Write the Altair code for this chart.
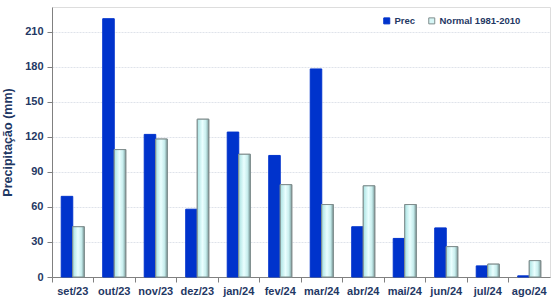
import altair as alt
import pandas as pd

months = ["set/23", "out/23", "nov/23", "dez/23", "jan/24", "fev/24",
          "mar/24", "abr/24", "mai/24", "jun/24", "jul/24", "ago/24"]
prec = [69, 221, 122, 58, 124, 104, 178, 43, 33, 42, 9.5, 1]
normal = [43, 109, 118, 135, 105, 79, 62, 78, 62, 26, 11, 14]
series = ["Prec", "Normal 1981-2010"]

rows = []
for m, p, n in zip(months, prec, normal):
    rows.append({"mes": m, "serie": series[0], "valor": p})
    rows.append({"mes": m, "serie": series[1], "valor": n})
df = pd.DataFrame(rows)

navy = "#1f3864"
font = "Liberation Sans"

x = alt.X("mes:N", sort=months, title=None,
          scale=alt.Scale(paddingInner=0, paddingOuter=0),
          axis=alt.Axis(labelAngle=0, bandPosition=0, ticks=True, tickSize=5,
                        tickColor="#808080", domainColor="#808080",
                        labelFont=font, labelFontSize=11, labelFontWeight="bold",
                        labelColor=navy, labelPadding=3, grid=False))
y = alt.Y("valor:Q", title="Precipitação (mm)",
          scale=alt.Scale(domain=[0, 231], nice=False),
          axis=alt.Axis(values=[0, 30, 60, 90, 120, 150, 180, 210], tickSize=5,
                        tickColor="#808080", domainColor="#808080",
                        labelFont=font, labelFontSize=11, labelFontWeight="bold",
                        labelColor=navy, labelPadding=4,
                        titleFont=font, titleFontSize=12.5, titleFontWeight="bold",
                        titleColor=navy, titlePadding=10,
                        grid=True, gridColor="#dfe3ea", gridDash=[2, 1]))
xoff = alt.XOffset("serie:N", sort=series,
                   scale=alt.Scale(paddingInner=0, paddingOuter=0.8))

leg = dict(title=None, orient="none", direction="horizontal",
           legendX=330, legendY=9, symbolType="square",
           symbolSize=36, labelFont=font, labelFontSize=9.5,
           labelFontWeight="bold", labelColor=navy,
           columnPadding=10, symbolStrokeWidth=1, labelOffset=3)

base = alt.Chart(df)

bars = base.mark_bar(strokeWidth=1).encode(
    x=x, y=y, xOffset=xoff,
    color=alt.Color("serie:N", sort=series,
                    scale=alt.Scale(domain=series, range=["#0033cc", "#d6f6f6"]),
                    legend=alt.Legend(**leg)),
    stroke=alt.Stroke("serie:N", sort=series,
                      scale=alt.Scale(domain=series, range=["#0033cc", "#7f8c8c"]),
                      legend=alt.Legend(**leg)),
)

grad = alt.Gradient(
    gradient="linear", x1=0, y1=0, x2=1, y2=0,
    stops=[alt.GradientStop(offset=0, color="#a9e2e2"),
           alt.GradientStop(offset=0.45, color="#eaffff"),
           alt.GradientStop(offset=0.75, color="#c8eeee"),
           alt.GradientStop(offset=1, color="#7a9a9a")])

normal_bars = base.transform_filter(alt.datum.serie == series[1]).mark_bar(
    fill=grad, stroke="#7f8c8c", strokeWidth=1
).encode(x=x, y=y, xOffset=xoff)

chart = alt.layer(bars, normal_bars).properties(
    width=498, height=270,
    autosize=alt.AutoSizeParams(type="none"),
    padding={"left": 52, "top": 7, "right": 10, "bottom": 20},
).configure_view(stroke="#c8cdd8", strokeWidth=1).configure(background="white")

chart.save("out.html", embed_options={"renderer": "svg", "actions": False})
